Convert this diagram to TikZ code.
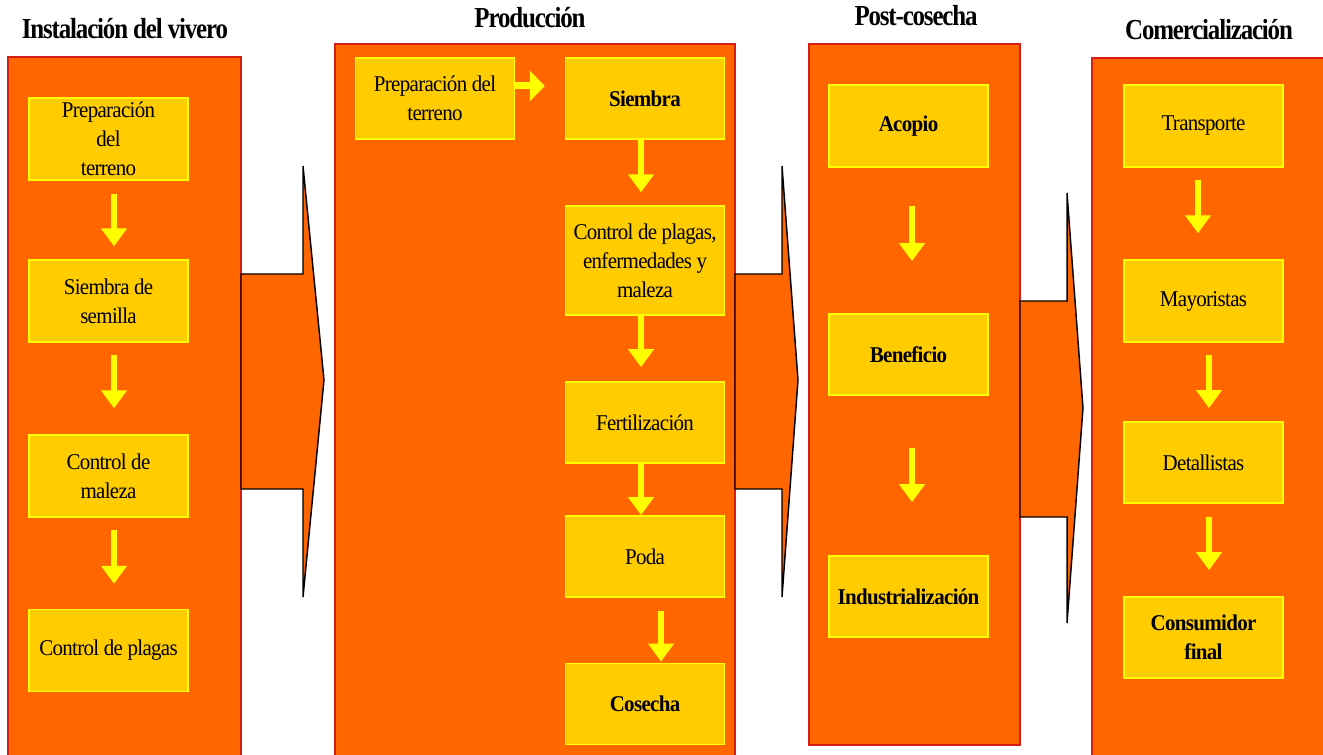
\documentclass[tikz,border=0pt]{standalone}
\usepackage{fontspec}
\setmainfont{Liberation Serif}[FakeStretch=0.93, LetterSpace=-3]
\newfontfamily\titfont{Liberation Serif}[FakeStretch=0.86, LetterSpace=-4]
\usetikzlibrary{arrows.meta,calc}
\definecolor{naranja}{RGB}{255,102,0}
\definecolor{rojo}{RGB}{215,30,20}
\definecolor{oro}{RGB}{255,204,0}
\definecolor{amarillo}{RGB}{255,255,0}
\tikzset{
  panel/.style={fill=naranja, draw=rojo, line width=1.1pt},
  bigarrow/.style={fill=naranja, draw=black, line width=1.1pt, line join=miter},
  etapa/.style={draw=amarillo, fill=oro, line width=1.1pt, minimum width=119.25pt,
    minimum height=61pt, inner sep=1pt, align=center,
    font=\fontsize{16.9pt}{21.75pt}\selectfont},
  flecha/.style={draw=amarillo, line width=4.5pt, -{Triangle[width=18.75pt,length=13.5pt]}},
  titulo/.style={anchor=base, font=\titfont\bfseries\fontsize{21.75pt}{26pt}\selectfont}
}
\begin{document}
\begin{tikzpicture}[x=0.75pt, y=-0.75pt]
    \clip (0,0) rectangle (1323,755);

    % Panels
    \draw[panel] (8,57) rectangle (241,775);
    \draw[panel] (335,44) rectangle (735,775);
    \draw[panel] (809,44) rectangle (1020,745);
    \draw[panel] (1092,58) rectangle (1340,775);

    % Big arrows
    \draw[bigarrow] (241,274) -- (303,274) -- (303,166) -- (324,380) -- (303,597) -- (303,489) -- (241,489) -- cycle;
    \draw[bigarrow] (735,274) -- (782,274) -- (782,166) -- (798,380) -- (782,597) -- (782,489) -- (735,489) -- cycle;
    \draw[bigarrow] (1020,301) -- (1067,301) -- (1067,193) -- (1083,408) -- (1067,623) -- (1067,517) -- (1020,517) -- cycle;

    % Titles
    \node[titulo] (tviv) at (125,39) {Instalación del vivero};
    \node[titulo] (tprod) at (530,28) {Producción};
    \node[titulo] (tpost) at (916,26) {Post-cosecha};
    \node[titulo] (tcom) at (1209,40) {Comercialización};

    % Instalacion del vivero
    \node[etapa, minimum height=61.5pt] (viv1) at (108.5,139) {Preparación\\del\\terreno};
    \node[etapa, minimum height=61.5pt] (viv2) at (108.5,301) {Siembra de\\semilla};
    \node[etapa, minimum height=61.5pt] (viv3) at (108.5,476) {Control de\\maleza};
    \node[etapa, minimum height=61.5pt] (viv4) at (108.5,650.5) {Control de plagas};
    \draw[flecha, shorten <=9.75pt, shorten >=9.75pt] ($(viv1.south)+(5.5,0)$) -- ($(viv2.north)+(5.5,0)$);
    \draw[flecha, shorten <=9pt, shorten >=19.5pt] ($(viv2.south)+(5.5,0)$) -- ($(viv3.north)+(5.5,0)$);
    \draw[flecha, shorten <=9pt, shorten >=18.75pt] ($(viv3.south)+(5.5,0)$) -- ($(viv4.north)+(5.5,0)$);

    % Produccion
    \node[etapa] (prod0) at (435,98.5) {Preparación del\\terreno};
    \node[etapa] (prod1) at (645,98.5) {\bfseries Siembra};
    \node[etapa, minimum height=81.75pt] (prod2) at (645,260.5) {Control de plagas,\\enfermedades y\\maleza};
    \node[etapa] (prod3) at (645,422.5) {Fertilización};
    \node[etapa] (prod4) at (645,556.5) {Poda};
    \node[etapa] (prod5) at (645,704) {\bfseries Cosecha};
    \draw[flecha, line width=5.25pt, -{Triangle[width=22.5pt,length=11.25pt]}, shorten >=15pt]
        ($(prod0.east)+(0,-12.5)$) -- ($(prod1.west)+(0,-12.5)$);
    \draw[flecha, shorten >=9.75pt] ($(prod1.south)+(-4,0)$) -- ($(prod2.north)+(-4,0)$);
    \draw[flecha, shorten >=10.5pt] ($(prod2.south)+(-4,0)$) -- ($(prod3.north)+(-4,0)$);
    \draw[flecha] ($(prod3.south)+(-4,0)$) -- ($(prod4.north)+(-4,0)$);
    \draw[flecha, shorten <=9.75pt, shorten >=0.75pt] ($(prod4.south)+(16,0)$) -- ($(prod5.north)+(16,0)$);

    % Post-cosecha
    \node[etapa, minimum height=61.5pt] (post1) at (908.5,126) {\bfseries Acopio};
    \node[etapa] (post2) at (908.5,354.5) {\bfseries Beneficio};
    \node[etapa] (post3) at (908.5,596.5) {\bfseries Industrialización};
    \draw[flecha, shorten <=28.5pt, shorten >=39pt] ($(post1.south)+(3.5,0)$) -- ($(post2.north)+(3.5,0)$);
    \draw[flecha, shorten <=39pt, shorten >=39.75pt] ($(post2.south)+(3.5,0)$) -- ($(post3.north)+(3.5,0)$);

    % Comercializacion
    \node[etapa, minimum height=61.5pt] (com1) at (1203.5,126) {Transporte};
    \node[etapa, minimum height=61.5pt] (com2) at (1203.5,301) {Mayoristas};
    \node[etapa] (com3) at (1203.5,462.5) {Detallistas};
    \node[etapa] (com4) at (1203.5,637.5) {\bfseries Consumidor\\\bfseries final};
    \draw[flecha, shorten <=9pt, shorten >=19.5pt] ($(com1.south)+(-5.5,0)$) -- ($(com2.north)+(-5.5,0)$);
    \draw[flecha, shorten <=9pt, shorten >=9.75pt] ($(com2.south)+(5.5,0)$) -- ($(com3.north)+(5.5,0)$);
    \draw[flecha, shorten <=9.75pt, shorten >=19.5pt] ($(com3.south)+(5.5,0)$) -- ($(com4.north)+(5.5,0)$);

\end{tikzpicture}
\end{document}
